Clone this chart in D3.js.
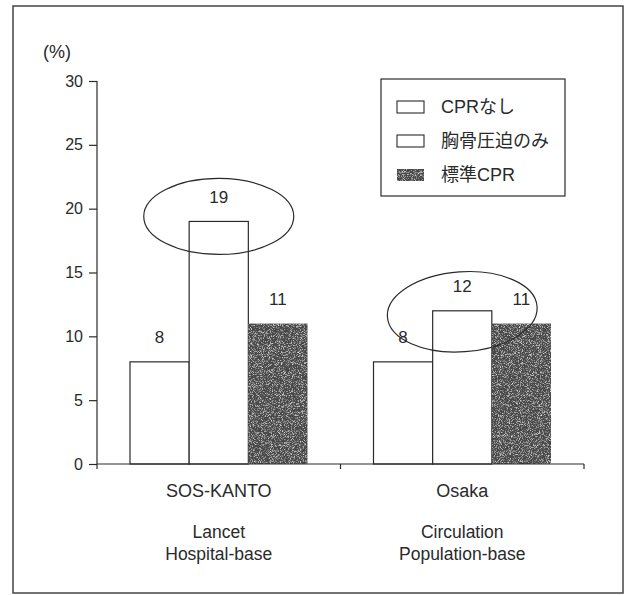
<!DOCTYPE html>
<html>
<head>
<meta charset="utf-8">
<script src="https://cdn.jsdelivr.net/npm/d3@7"></script>
<style>
  html, body { margin: 0; padding: 0; background: #fff; }
  svg { display: block; font-family: "Liberation Sans", Arial, "Noto Sans CJK JP", sans-serif; }
</style>
</head>
<body>
<svg id="chart" width="632" height="595"></svg>
<script>
// Survival rates (%) by bystander CPR type in two Japanese studies
const categories = ["SOS-KANTO", "Osaka"];
const subLabels = [["Lancet", "Hospital-base"], ["Circulation", "Population-base"]];
const seriesNames = ["CPRなし", "胸骨圧迫のみ", "標準CPR"];
const noCPR = [8, 8];
const chestOnly = [19, 12];
const standardCPR = [11, 11];
const yTicks = [0, 5, 10, 15, 20, 25, 30];

const seriesValues = [noCPR, chestOnly, standardCPR];
const rows = categories.map((c, i) => ({
  cat: c,
  values: seriesNames.map((s, j) => ({ series: s, value: seriesValues[j][i] }))
}));

const ink = "#2a2a2a";
const svg = d3.select("#chart");

// grainy dark fill for the standard CPR bars
const defs = svg.append("defs");
const f = defs.append("filter").attr("id", "grain")
  .attr("x", 0).attr("y", 0).attr("width", "100%").attr("height", "100%");
f.append("feTurbulence").attr("type", "fractalNoise").attr("baseFrequency", 1.1)
  .attr("numOctaves", 2).attr("seed", 7).attr("result", "noise");
f.append("feColorMatrix").attr("in", "noise").attr("type", "matrix")
  .attr("values", "0 0 0 0 0.85  0 0 0 0 0.85  0 0 0 0 0.85  2.6 0 0 0 -1.3").attr("result", "specks");
f.append("feComposite").attr("in", "specks").attr("in2", "SourceGraphic")
  .attr("operator", "in").attr("result", "clipped");
const fm = f.append("feMerge");
fm.append("feMergeNode").attr("in", "SourceGraphic");
fm.append("feMergeNode").attr("in", "clipped");

// outer frame
svg.append("rect").attr("x", 13).attr("y", 6).attr("width", 610).attr("height", 587)
  .attr("fill", "none").attr("stroke", "#444").attr("stroke-width", 1.5);

const x = d3.scaleBand().domain(categories).range([97, 584]).paddingInner(0).paddingOuter(0);
const x1 = d3.scaleBand().domain(seriesNames).range([33, x.bandwidth() - 33]);
const y = d3.scaleLinear().domain([0, 30]).range([464, 81]);

const fills = { "CPRなし": "#fff", "胸骨圧迫のみ": "#fff", "標準CPR": "#4a4a4a" };

// bars
const g = svg.append("g");
const groups = g.selectAll("g.grp").data(rows).join("g")
  .attr("class", "grp")
  .attr("transform", d => `translate(${x(d.cat)},0)`);

groups.selectAll("rect").data(d => d.values).join("rect")
  .attr("x", d => x1(d.series))
  .attr("y", d => y(d.value))
  .attr("width", x1.bandwidth())
  .attr("height", d => y(0) - y(d.value))
  .attr("fill", d => fills[d.series])
  .attr("stroke", d => d.series === "標準CPR" ? "none" : ink)
  .attr("stroke-width", 1.2)
  .attr("filter", d => d.series === "標準CPR" ? "url(#grain)" : null);

// value labels
groups.selectAll("text.val").data(d => d.values).join("text")
  .attr("class", "val")
  .attr("x", d => x1(d.series) + x1.bandwidth() / 2)
  .attr("y", d => y(d.value) - 24)
  .attr("text-anchor", "middle")
  .attr("dominant-baseline", "central")
  .attr("font-size", 17)
  .attr("fill", ink)
  .text(d => d.value);

// highlight ellipses around the chest-compression-only bars
const marks = [
  { cat: "SOS-KANTO", dy: -5, rx: 75, ry: 38, rot: 0 },
  { cat: "Osaka", dy: 1, rx: 75, ry: 40, rot: -4 }
];
marks.forEach(m => {
  const i = categories.indexOf(m.cat);
  const cx = x(m.cat) + x1("胸骨圧迫のみ") + x1.bandwidth() / 2;
  const cy = y(chestOnly[i]) + m.dy;
  svg.append("ellipse")
    .attr("cx", cx).attr("cy", cy).attr("rx", m.rx).attr("ry", m.ry)
    .attr("transform", `rotate(${m.rot},${cx},${cy})`)
    .attr("fill", "none").attr("stroke", ink).attr("stroke-width", 1.2);
});

// y axis
const yAxis = svg.append("g").attr("transform", "translate(97,0)")
  .call(d3.axisLeft(y).tickValues(yTicks).tickSize(8).tickSizeOuter(0).tickPadding(6));
yAxis.select(".domain").remove();
yAxis.selectAll("line").attr("stroke", ink).attr("stroke-width", 1.2);
yAxis.selectAll("text").attr("font-size", 16).attr("fill", ink)
  .attr("font-family", "Liberation Sans, Arial, sans-serif");
svg.append("line").attr("x1", 97).attr("x2", 97).attr("y1", y(30)).attr("y2", y(0) + 5)
  .attr("stroke", ink).attr("stroke-width", 1.2);

svg.append("text").attr("x", 43).attr("y", 58).attr("font-size", 18).attr("fill", ink).text("(%)");

// x axis baseline with boundary ticks
svg.append("line").attr("x1", 97).attr("x2", x.range()[1]).attr("y1", y(0)).attr("y2", y(0))
  .attr("stroke", ink).attr("stroke-width", 1.2);
const bounds = categories.slice(1).map(c => x(c)).concat([x.range()[1]]);
svg.selectAll("line.bt").data(bounds).join("line").attr("class", "bt")
  .attr("x1", d => d).attr("x2", d => d).attr("y1", y(0)).attr("y2", y(0) + 5)
  .attr("stroke", ink).attr("stroke-width", 1.2);

// category labels
const xAxis = svg.append("g").attr("transform", `translate(0,${y(0)})`)
  .call(d3.axisBottom(x).tickSize(0).tickPadding(20));
xAxis.select(".domain").remove();
xAxis.selectAll("text").attr("font-size", 18).attr("fill", ink)
  .attr("font-family", "Liberation Sans, Arial, sans-serif");

categories.forEach((c, i) => {
  subLabels[i].forEach((s, k) => {
    svg.append("text")
      .attr("x", x(c) + x.bandwidth() / 2)
      .attr("y", 538 + k * 22)
      .attr("text-anchor", "middle")
      .attr("font-size", 17.5).attr("fill", ink)
      .text(s);
  });
});

// legend
const lg = svg.append("g");
lg.append("rect").attr("x", 381).attr("y", 79).attr("width", 184).attr("height", 117)
  .attr("fill", "#fff").attr("stroke", ink).attr("stroke-width", 1.2);
const rowY = [107, 141, 175];
seriesNames.forEach((s, i) => {
  lg.append("rect").attr("x", 397).attr("y", rowY[i] - 6).attr("width", 27).attr("height", 12)
    .attr("fill", fills[s])
    .attr("stroke", s === "標準CPR" ? "none" : ink).attr("stroke-width", 1.1)
    .attr("filter", s === "標準CPR" ? "url(#grain)" : null);
  lg.append("text").attr("x", 441).attr("y", rowY[i]).attr("dominant-baseline", "central")
    .attr("font-size", 18).attr("fill", ink)
    .attr("font-family", "Liberation Sans, 'Noto Sans CJK JP', sans-serif")
    .text(s);
});
</script>
</body>
</html>
